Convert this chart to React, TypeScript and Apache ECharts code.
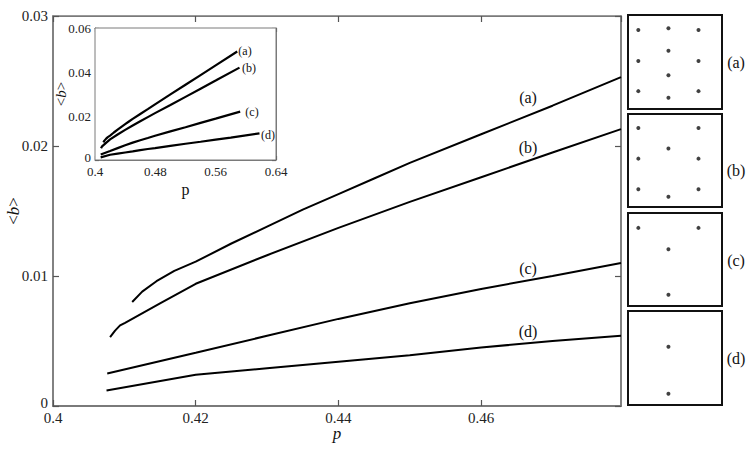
import React, { useEffect, useRef } from "react";
import * as echarts from "echarts";

const curveLabels = ["(a)", "(b)", "(c)", "(d)"];

// main plot curves [p, <b>]
const curveA = [[0.4111, 0.008], [0.4125, 0.0088], [0.4145, 0.0096], [0.417, 0.0104], [0.42, 0.0111], [0.425, 0.0125], [0.43, 0.0138], [0.435, 0.0151], [0.44, 0.0163], [0.445, 0.0175], [0.45, 0.0187], [0.46, 0.0209], [0.47, 0.0231], [0.4796, 0.0253]];
const curveB = [[0.408, 0.0053], [0.4087, 0.0058], [0.4094, 0.0062], [0.4101, 0.0064], [0.415, 0.0079], [0.42, 0.0094], [0.43, 0.0116], [0.44, 0.0137], [0.45, 0.0157], [0.46, 0.0176], [0.47, 0.0195], [0.4796, 0.0213]];
const curveC = [[0.4076, 0.0025], [0.42, 0.0041], [0.43, 0.0054], [0.44, 0.0067], [0.45, 0.0079], [0.46, 0.009], [0.47, 0.01], [0.4796, 0.011]];
const curveD = [[0.4075, 0.0012], [0.42, 0.0024], [0.43, 0.0029], [0.44, 0.0034], [0.45, 0.0039], [0.46, 0.0045], [0.47, 0.005], [0.4796, 0.0054]];

// inset continuation beyond main range
const extA = [[0.5, 0.0298], [0.52, 0.0342], [0.54, 0.0386], [0.56, 0.043], [0.5886, 0.0493]];
const extB = [[0.5, 0.025], [0.52, 0.0287], [0.54, 0.0324], [0.56, 0.0361], [0.5916, 0.042]];
const extC = [[0.5, 0.013], [0.52, 0.0149], [0.54, 0.0169], [0.56, 0.0188], [0.5925, 0.022]];
const extD = [[0.5, 0.0064], [0.52, 0.0074], [0.54, 0.0083], [0.56, 0.0093], [0.58, 0.0102], [0.6181, 0.0121]];

// configuration panels: dot positions in a 0..100 frame (y from top)
const panelA = [[11, 16], [43, 14], [75, 16], [43, 38], [11, 49], [75, 49], [43, 64], [11, 81], [75, 81], [43, 88]];
const panelB = [[11, 15], [75, 15], [43, 37], [11, 48], [75, 48], [11, 81], [75, 81], [43, 89]];
const panelC = [[11, 16], [75, 16], [43, 39], [43, 88]];
const panelD = [[43, 38], [43, 88]];

const mainXTicks = [0.4, 0.42, 0.44, 0.46];
const insetXLabels = [0.4, 0.48, 0.56, 0.64];

const FONT = "'Liberation Serif', 'Times New Roman', Times, serif";
const AX = "#7a7a7a";

export default function App() {
  const ref = useRef<HTMLDivElement>(null);
  useEffect(() => {
    if (!ref.current) return;
    const chart = echarts.init(ref.current, null, { renderer: "svg" });
    const curves = [curveA, curveB, curveC, curveD];
    const exts = [extA, extB, extC, extD];
    const panels = [panelA, panelB, panelC, panelD];
    const panelGrids = [
      { left: 628, top: 15, width: 94, height: 94 },
      { left: 628, top: 114, width: 94, height: 93 },
      { left: 628, top: 213, width: 94, height: 93 },
      { left: 628, top: 311, width: 94, height: 94 },
    ];
    const tickIn = (len: number) => ({ show: true, inside: true, length: len, lineStyle: { color: "#555", width: 1.2 } });
    const line = (w: number) => ({ show: true, onZero: false, lineStyle: { color: AX, width: w } });
    const nameRich = (fs: number) => ({
      fontFamily: FONT,
      fontSize: fs,
      color: "#111",
      rich: {
        n: { fontFamily: FONT, fontSize: fs, color: "#111" },
        i: { fontFamily: FONT, fontSize: fs, fontStyle: "italic", color: "#111" },
      },
    });
    const mainXFmt = (v: number) => {
      const hit = mainXTicks.find((t) => Math.abs(t - v) < 1e-6);
      return hit === undefined ? "" : String(hit);
    };
    const insetXFmt = (v: number) => {
      const hit = insetXLabels.find((t) => Math.abs(t - v) < 1e-6);
      return hit === undefined ? "" : String(hit);
    };
    const yFmt = (v: number) => (Math.abs(v) < 1e-9 ? "{z|0}" : String(+v.toFixed(4)));
    const yLabel = (fs: number, lift: number) => ({
      formatter: yFmt, fontFamily: FONT, fontSize: fs, color: "#222", margin: 5,
      rich: { z: { fontFamily: FONT, fontSize: fs, color: "#222", padding: [0, 0, lift, 0] } },
    });

    const xAxis: any[] = [
      {
        show: true, gridIndex: 0, type: "value", min: 0.4, max: 0.4796, interval: 0.02, position: "bottom",
        axisLine: line(2), axisTick: tickIn(6), splitLine: { show: false },
        axisLabel: { formatter: mainXFmt, fontFamily: FONT, fontSize: 15, color: "#222", margin: 4, showMaxLabel: false },
        name: "{i|p}", nameLocation: "middle", nameGap: 19, nameMoveOverlap: false, nameTextStyle: nameRich(17),
      },
      {
        show: true, gridIndex: 0, type: "value", min: 0.4, max: 0.4796, interval: 0.02, position: "top",
        axisLine: line(1), axisTick: tickIn(6), axisLabel: { show: false }, splitLine: { show: false },
      },
      {
        show: true, gridIndex: 1, type: "value", min: 0.4, max: 0.64, interval: 0.04, position: "bottom",
        axisLine: line(1), axisTick: tickIn(4), splitLine: { show: false },
        axisLabel: { formatter: insetXFmt, fontFamily: FONT, fontSize: 13, color: "#222", margin: 5 },
        name: "p", nameLocation: "middle", nameGap: 21, nameMoveOverlap: false, nameTextStyle: { fontFamily: FONT, fontSize: 16, color: "#111" },
      },
      {
        show: true, gridIndex: 1, type: "value", min: 0.4, max: 0.64, interval: 0.04, position: "top",
        axisLine: line(1), axisTick: tickIn(4), axisLabel: { show: false }, splitLine: { show: false },
      },
      ...panelGrids.map((_, i) => ({ gridIndex: 2 + i, type: "value", min: 0, max: 100, show: false })),
    ];
    const yAxis: any[] = [
      {
        show: true, gridIndex: 0, type: "value", min: 0, max: 0.03, interval: 0.01, position: "left",
        axisLine: line(1.5), axisTick: tickIn(6), splitLine: { show: false },
        axisLabel: yLabel(15, 6),
        name: "{n|<}{i|b}{n|>}", nameLocation: "middle", nameGap: 31, nameRotate: 90, nameMoveOverlap: false, nameTextStyle: nameRich(17),
      },
      {
        show: true, gridIndex: 0, type: "value", min: 0, max: 0.03, interval: 0.01, position: "right",
        axisLine: line(1.5), axisTick: tickIn(6), axisLabel: { show: false }, splitLine: { show: false },
      },
      {
        show: true, gridIndex: 1, type: "value", min: 0, max: 0.06, interval: 0.02, position: "left",
        axisLine: line(1), axisTick: tickIn(4), splitLine: { show: false },
        axisLabel: { ...yLabel(13, 6), margin: 4 },
        name: "{n|<}{i|b}{n|>}", nameLocation: "middle", nameGap: 27, nameRotate: 90, nameMoveOverlap: false, nameTextStyle: nameRich(15),
      },
      {
        show: true, gridIndex: 1, type: "value", min: 0, max: 0.06, interval: 0.02, position: "right",
        axisLine: line(1), axisTick: tickIn(4), axisLabel: { show: false }, splitLine: { show: false },
      },
      ...panelGrids.map((_, i) => ({ gridIndex: 2 + i, type: "value", min: 0, max: 100, inverse: true, show: false })),
    ];

    const series: any[] = [
      ...curves.map((c, i) => ({
        name: curveLabels[i], type: "line", xAxisIndex: 0, yAxisIndex: 0, data: c,
        showSymbol: false, lineStyle: { color: "#000", width: 2 }, z: 3,
      })),
      ...curves.map((c, i) => ({
        name: curveLabels[i] + " inset", type: "line", xAxisIndex: 2, yAxisIndex: 2, data: c.concat(exts[i]),
        showSymbol: false, lineStyle: { color: "#000", width: 2.2 }, z: 5,
      })),
      ...panels.map((p, i) => ({
        name: "panel " + curveLabels[i], type: "scatter", xAxisIndex: 4 + i, yAxisIndex: 4 + i, data: p,
        symbolSize: 4, itemStyle: { color: "#111" },
      })),
    ];

    const txt = (x: number, y: number, s: string, fs: number) => ({
      type: "text", x, y, z: 20,
      style: { text: s, fontFamily: FONT, fontSize: fs, fill: "#111", align: "center", verticalAlign: "middle" },
    });

    const fixed = { outerBoundsMode: "none", containLabel: false };

    chart.setOption({
      animation: false,
      backgroundColor: "#fff",
      grid: [
        { left: 53, top: 16, width: 568, height: 390, show: true, borderColor: AX, borderWidth: 1.5, ...fixed },
        { left: 95, top: 28, width: 181, height: 132, show: true, backgroundColor: "#fff", borderColor: AX, borderWidth: 1, z: 4, ...fixed },
        ...panelGrids.map((g) => ({ ...g, show: true, borderColor: "#111", borderWidth: 2, ...fixed })),
      ],
      xAxis,
      yAxis,
      series,
      graphic: [
        txt(528, 97, "(a)", 16),
        txt(528, 147, "(b)", 16),
        txt(528, 268, "(c)", 16),
        txt(528, 331, "(d)", 16),
        txt(245, 51, "(a)", 12),
        txt(249, 68, "(b)", 12),
        txt(252, 112, "(c)", 12),
        txt(268, 135, "(d)", 12),
        txt(736, 62, "(a)", 16),
        txt(736, 170, "(b)", 16),
        txt(736, 260, "(c)", 16),
        txt(736, 358, "(d)", 16),
      ],
    });
    return () => chart.dispose();
  }, []);
  return <div ref={ref} style={{ position: "fixed", left: 0, top: 0, width: 747, height: 459 }} />;
}
